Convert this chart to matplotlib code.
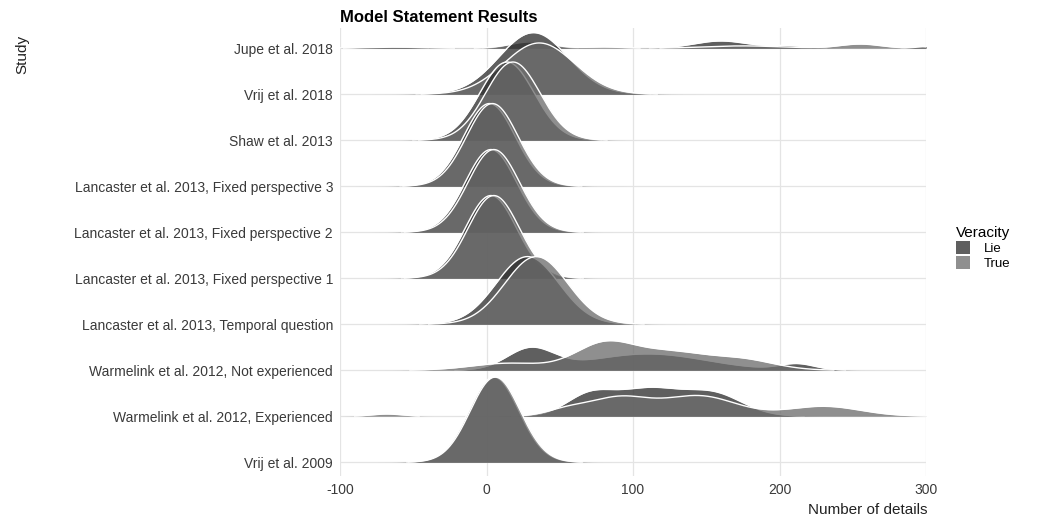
import numpy as np
import matplotlib
matplotlib.use("Agg")
import matplotlib.pyplot as plt
from matplotlib.patches import Patch

plt.rcParams['font.family'] = ['Liberation Sans', 'DejaVu Sans']

# studies, listed top to bottom as in the chart
studies = [
    "Jupe et al. 2018",
    "Vrij et al. 2018",
    "Shaw et al. 2013",
    "Lancaster et al. 2013, Fixed perspective 3",
    "Lancaster et al. 2013, Fixed perspective 2",
    "Lancaster et al. 2013, Fixed perspective 1",
    "Lancaster et al. 2013, Temporal question",
    "Warmelink et al. 2012, Not experienced",
    "Warmelink et al. 2012, Experienced",
    "Vrij et al. 2009",
]

# density components: (centre, spread, mass)
lie_components = [
    [(-70, 15, 0.015), (30, 12, 0.06), (160, 18, 0.09), (205, 12, 0.02), (296, 6, 0.008)],
    [(32, 23.5, 1.0)],
    [(14, 18.5, 1.0)],
    [(2, 17.5, 1.0)],
    [(3, 17.5, 1.0)],
    [(3, 17.5, 1.0)],
    [(28, 21.4, 1.0)],
    [(30, 16, 0.23), (110, 40, 0.45), (212, 12, 0.05)],
    [(70, 16, 0.22), (110, 22, 0.4), (155, 20, 0.3)],
    [(5, 17, 1.0)],
]
true_components = [
    [(-60, 20, 0.015), (30, 14, 0.06), (80, 12, 0.01), (175, 25, 0.04), (255, 14, 0.04), (298, 5, 0.005)],
    [(36, 24, 0.85)],
    [(18, 18.5, 1.0)],
    [(4, 17.5, 1.0)],
    [(5, 17.5, 1.0)],
    [(5, 17.5, 1.0)],
    [(34, 21.4, 1.0)],
    [(15, 25, 0.12), (80, 20, 0.35), (125, 25, 0.3), (175, 22, 0.15)],
    [(-68, 10, 0.015), (55, 14, 0.06), (90, 20, 0.25), (145, 25, 0.35), (230, 25, 0.17)],
    [(6, 17, 1.0)],
]

x_ticks = [-100, 0, 100, 200, 300]

lie_col = '#2f2f2f'
true_col = '#6d6d6d'
alpha = 0.77


def density(parts, xs):
    d = np.zeros_like(xs)
    for m, s, w in parts:
        d += w * np.exp(-0.5 * ((xs - m) / s) ** 2) / (s * np.sqrt(2 * np.pi))
    return d


fig = plt.figure(figsize=(10.51, 5.27), dpi=100)
ax = fig.add_axes([0.3235, 0.0968, 0.5576, 0.851])

xs = np.linspace(-100, 300, 1601)
n = len(studies)
lie_d = [density(p, xs) for p in lie_components]
true_d = [density(p, xs) for p in true_components]
peak = max(d.max() for d in lie_d + true_d)
scale = 1.85

# top row first so lower ridges sit in front
z = 2
for i in range(n):
    base = n - 1 - i
    for d, col in ((lie_d[i], lie_col), (true_d[i], true_col)):
        h = d / peak * scale
        ax.fill_between(xs, base, base + h, color=col, alpha=alpha, lw=0, zorder=z)
        top = np.where(h > 0.004, base + h, np.nan)
        ax.plot(xs, top, color='white', lw=1.0, zorder=z + 0.5)
        z += 1

ax.set_xlim(-100, 300)
ax.set_ylim(-0.3, 9.45)
ax.set_xticks(x_ticks)
ax.set_xticklabels([str(t) for t in x_ticks])
ax.set_yticks(range(n))
ax.set_yticklabels(studies[::-1])
ax.grid(color='#e4e4e4', lw=0.9)
ax.set_axisbelow(True)
for s in ax.spines.values():
    s.set_visible(False)
ax.tick_params(length=0, labelsize=10, labelcolor='#3a3a3a')
ax.tick_params(axis='y', pad=5)
ax.tick_params(axis='x', pad=5)

fig.text(340 / 1051, 1 - 18 / 527, 'Model Statement Results', fontsize=12,
         fontweight='bold', va='center', ha='left')
fig.text(22 / 1051, 1 - 35 / 527, 'Study', rotation=90, fontsize=11,
         ha='center', va='top', color='#222222')
fig.text(928 / 1051, 1 - 510 / 527, 'Number of details', fontsize=11,
         ha='right', va='center', color='#222222')

handles = [Patch(facecolor=lie_col, alpha=alpha, edgecolor='none'),
           Patch(facecolor=true_col, alpha=alpha, edgecolor='none')]
leg = fig.legend(handles, ['Lie', 'True'], title='Veracity',
                 loc='upper left', bbox_to_anchor=(944 / 1051, 1 - 214 / 527),
                 frameon=False, fontsize=9.5, title_fontsize=11,
                 handlelength=1.1, handleheight=1.1, handletextpad=1.0,
                 labelspacing=0.1, alignment='left')

fig.savefig('out.png', dpi=100)
